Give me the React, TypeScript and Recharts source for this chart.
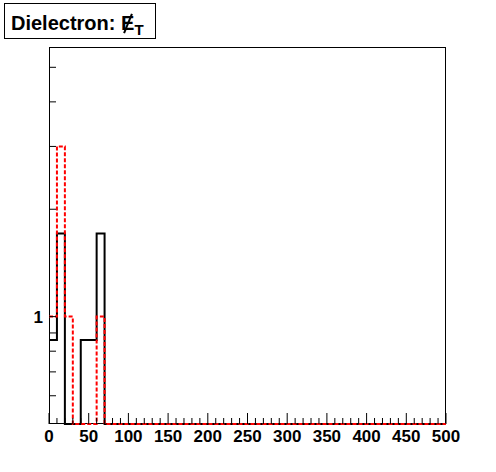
import { ComposedChart, Line, XAxis, YAxis } from "recharts";

// bin edges (GeV), 10 GeV wide, 0..500
const binEdges = [
  0, 10, 20, 30, 40, 50, 60, 70, 80, 90, 100, 110, 120, 130, 140, 150, 160, 170, 180, 190,
  200, 210, 220, 230, 240, 250, 260, 270, 280, 290, 300, 310, 320, 330, 340, 350, 360, 370, 380, 390,
  400, 410, 420, 430, 440, 450, 460, 470, 480, 490,
];
const blackCounts = [
  0.86, 1.71, 0, 0, 0.86, 0.86, 1.71, 0, 0, 0, 0, 0, 0, 0, 0, 0, 0, 0, 0, 0,
  0, 0, 0, 0, 0, 0, 0, 0, 0, 0, 0, 0, 0, 0, 0, 0, 0, 0, 0, 0,
  0, 0, 0, 0, 0, 0, 0, 0, 0, 0,
];
const redCounts = [
  1, 3, 1, 0, 0, 0, 1, 0, 0, 0, 0, 0, 0, 0, 0, 0, 0, 0, 0, 0,
  0, 0, 0, 0, 0, 0, 0, 0, 0, 0, 0, 0, 0, 0, 0, 0, 0, 0, 0, 0,
  0, 0, 0, 0, 0, 0, 0, 0, 0, 0,
];
const xTicks = [
  0, 10, 20, 30, 40, 50, 60, 70, 80, 90, 100, 110, 120, 130, 140, 150, 160, 170, 180, 190,
  200, 210, 220, 230, 240, 250, 260, 270, 280, 290, 300, 310, 320, 330, 340, 350, 360, 370, 380, 390,
  400, 410, 420, 430, 440, 450, 460, 470, 480, 490, 500,
];
const yTicks = [0.6, 0.7, 0.8, 0.9, 1, 2, 3, 4, 5];
const yLabels = [1];

const Y_MIN = 0.5;
const Y_MAX = 5.7;
const FONT = "'Liberation Sans', Arial, Helvetica, sans-serif";

// log axis: empty bins sit on the bottom of the frame, like ROOT draws them
const floor = (v: number) => (v > 0 ? v : Y_MIN);

const data = binEdges.map((x, i) => ({ x, black: floor(blackCounts[i]), red: floor(redCounts[i]) }));
data.push({
  x: 500,
  black: floor(blackCounts[blackCounts.length - 1]),
  red: floor(redCounts[redCounts.length - 1]),
});

function XTick(props: any) {
  const { x, y, payload } = props;
  const v = payload.value as number;
  const major = v % 50 === 0;
  return (
    <g>
      <line x1={x} x2={x} y1={y} y2={y - (major ? 11 : 6)} stroke="#000" strokeWidth={1} />
      {major && (
        <text x={x} y={y + 18} textAnchor="middle" fontFamily={FONT} fontWeight="bold" fontSize={17} fill="#000">
          {v}
        </text>
      )}
    </g>
  );
}

function YTick(props: any) {
  const { x, y, payload } = props;
  const v = payload.value as number;
  return (
    <g>
      <line x1={x} x2={x + 7} y1={y} y2={y} stroke="#000" strokeWidth={1} />
      {yLabels.includes(v) && (
        <text x={x - 6} y={y + 6} textAnchor="end" fontFamily={FONT} fontWeight="bold" fontSize={17} fill="#000">
          {v}
        </text>
      )}
    </g>
  );
}

export default function App() {
  return (
    <div style={{ position: "absolute", left: 0, top: 0, width: 496, height: 472, background: "#fff" }}>
      {/* frame sits under the histograms */}
      <div
        style={{
          position: "absolute",
          left: 49,
          top: 47,
          width: 397,
          height: 377,
          border: "1px solid #000",
          boxSizing: "border-box",
        }}
      />
      <ComposedChart width={496} height={472} data={data} margin={{ top: 47, right: 50, bottom: 0, left: 0 }}>
        <XAxis
          dataKey="x"
          type="number"
          domain={[0, 500]}
          ticks={xTicks}
          interval={0}
          height={48}
          tickSize={0}
          tickMargin={0}
          tickLine={false}
          axisLine={false}
          tick={<XTick />}
        />
        <YAxis
          type="number"
          scale="log"
          domain={[Y_MIN, Y_MAX]}
          ticks={yTicks}
          interval={0}
          width={49}
          tickSize={0}
          tickMargin={0}
          tickLine={false}
          axisLine={false}
          tick={<YTick />}
        />
        <Line
          type="stepAfter"
          dataKey="black"
          stroke="#000"
          strokeWidth={2}
          dot={false}
          isAnimationActive={false}
        />
        <Line
          type="stepAfter"
          dataKey="red"
          stroke="#ff0000"
          strokeWidth={2}
          strokeDasharray="4 2"
          dot={false}
          isAnimationActive={false}
        />
      </ComposedChart>
      <div
        style={{
          position: "absolute",
          left: 4,
          top: 3,
          width: 144,
          height: 34,
          border: "1.5px solid #000",
          fontFamily: FONT,
          fontWeight: "bold",
          fontSize: 20,
          lineHeight: "38px",
          paddingLeft: 6,
          boxSizing: "content-box",
          whiteSpace: "nowrap",
          overflow: "visible",
          background: "#fff",
        }}
      >
        Dielectron:{" "}
        <span style={{ position: "relative" }}>
          E
          <span
            style={{
              position: "absolute",
              left: 6,
              top: 1,
              width: 2,
              height: 21,
              background: "#000",
              transform: "rotate(22deg)",
            }}
          />
        </span>
        <span style={{ fontSize: 15, position: "relative", top: 5 }}>T</span>
      </div>
    </div>
  );
}
